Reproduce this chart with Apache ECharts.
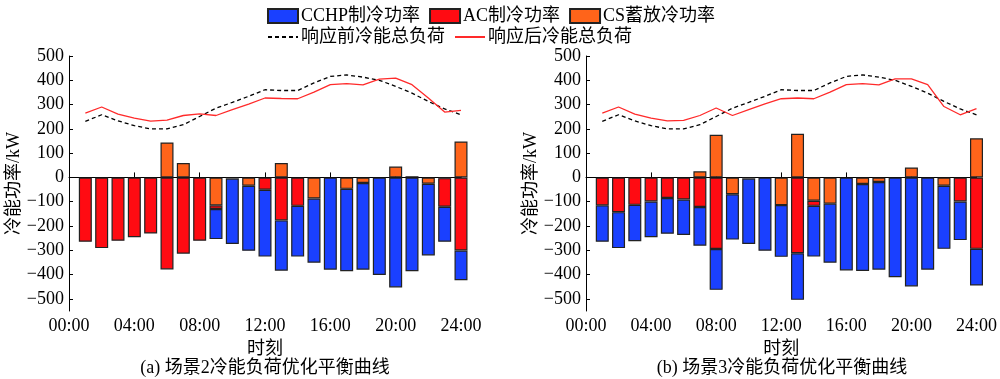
<!DOCTYPE html>
<html>
<head>
<meta charset="utf-8">
<script src="https://cdn.jsdelivr.net/npm/echarts@6/dist/echarts.min.js"></script>
<style>
html,body{margin:0;padding:0;background:#fff;}
#chart{width:1000px;height:379px;}
</style>
</head>
<body>
<div id="chart"></div>
<script>
// ---- data ----
var hours = [1,2,3,4,5,6,7,8,9,10,11,12,13,14,15,16,17,18,19,20,21,22,23,24];
var yTicks = [-500,-400,-300,-200,-100,0,100,200,300,400,500];
var seriesNames = ['CCHP制冷功率','AC制冷功率','CS蓄放冷功率','响应前冷能总负荷','响应后冷能总负荷'];
var captions = ['(a) 场景2冷能负荷优化平衡曲线','(b) 场景3冷能负荷优化平衡曲线'];

// 响应前冷能总负荷 (same in both scenarios)
var before = [231,258,233,213,200,200,217,251,285,309,334,361,358,358,389,416,422,413,400,375,347,313,282,258];

// Scenario 2
var after2 = [265,290,261,244,232,236,255,262,255,279,302,327,325,324,351,382,386,381,405,409,382,327,269,276];
var cchp2  = [0,0,0,0,0,0,0,0,-124,-269,-268,-275,-207,-209,-264,-380,-339,-357,-402,-453,-386,-295,-144,-122];
var ac2    = [-265,-291,-261,-246,-231,-379,-314,-261,-15,-5,0,-51,-177,-117,0,0,0,0,0,0,0,0,-118,-301];
var cs2    = [0,0,0,0,0,144,59,0,-115,0,-34,0,59,0,-87,0,-47,-23,0,45,5,-26,-3,148];

// Scenario 3
var after3 = [265,290,261,244,233,235,255,286,255,279,303,324,327,324,351,382,386,381,406,406,382,292,258,283];
var cchp3  = [-150,-148,-150,-147,-147,-146,-159,-168,-187,-269,-302,-213,-192,-209,-243,-383,-358,-361,-411,-449,-380,-260,-159,-151];
var ac3    = [-115,-143,-113,-99,-85,-91,-122,-295,0,-5,0,0,-312,-21,0,0,0,0,0,0,0,0,-99,-294];
var cs3    = [0,0,0,0,0,0,25,176,-69,0,0,-114,180,-96,-108,0,-27,-19,0,41,0,-34,0,161];

// ---- styles ----
var SERIF = '"Liberation Serif","Times New Roman","Noto Sans CJK SC",serif';
var C_BLUE = '#1a40ff', C_RED = '#ff0b12', C_ORANGE = '#ff641a';

// category axis 0..24 (hour marks), marks sit on hours 1..24
var cats = [0].concat(hours).map(String);
function barData(arr){ return [null].concat(arr.map(function(v){ return v === 0 ? null : v; })); }
function lineData(arr){ return [null].concat(arr); }
function fmtMinus(v){ return String(v).replace('-', '\u2212'); }

var grids = [
  {left: 69, width: 392, top: 56, bottom: 68},
  {left: 586, width: 392, top: 56, bottom: 68}
];
var xAxes = [], yAxes = [], series = [], graphics = [];
var sets = [
  {cchp: cchp2, ac: ac2, cs: cs2, after: after2},
  {cchp: cchp3, ac: ac3, cs: cs3, after: after3}
];
sets.forEach(function(s, gi){
  xAxes.push({
    type: 'category', gridIndex: gi, data: cats, boundaryGap: false,
    name: '时刻', nameLocation: 'middle', nameGap: 28,
    nameTextStyle: {fontFamily: SERIF, fontSize: 18, color: '#000'},
    axisLine: {show: true, lineStyle: {color: '#000', width: 1}},
    axisTick: {show: true, inside: true, length: 5, interval: 3, lineStyle: {color: '#000'}},
    axisLabel: {fontFamily: SERIF, fontSize: 18, color: '#000', margin: 6, interval: 3,
      formatter: function(v){ var n = parseInt(v, 10); return (n < 10 ? '0' : '') + n + ':00'; }},
    splitLine: {show: false}
  });
  yAxes.push({
    type: 'value', gridIndex: gi, min: -550, max: 500,
    name: '冷能功率/kW', nameLocation: 'middle', nameGap: 42, nameRotate: 90,
    nameTextStyle: {fontFamily: SERIF, fontSize: 18, color: '#000'},
    axisLine: {show: true, lineStyle: {color: '#000', width: 1}},
    axisTick: {show: true, inside: true, length: 4, customValues: yTicks, lineStyle: {color: '#000'}},
    axisLabel: {fontFamily: SERIF, fontSize: 18, color: '#000', margin: 5,
      customValues: yTicks, formatter: fmtMinus},
    splitLine: {show: false}
  });
  var barCommon = {
    type: 'bar', xAxisIndex: gi, yAxisIndex: gi, stack: 'st' + gi,
    barWidth: 13, clip: false
  };
  series.push(Object.assign({}, barCommon, {name: seriesNames[2], data: barData(s.cs),
    itemStyle: {color: C_ORANGE, borderColor: '#222', borderWidth: 1.2}}));
  series.push(Object.assign({}, barCommon, {name: seriesNames[1], data: barData(s.ac),
    itemStyle: {color: C_RED, borderColor: '#222', borderWidth: 1.2}}));
  series.push(Object.assign({}, barCommon, {name: seriesNames[0], data: barData(s.cchp),
    itemStyle: {color: C_BLUE, borderColor: '#222', borderWidth: 1.2}}));
  series.push({
    type: 'line', name: seriesNames[3], xAxisIndex: gi, yAxisIndex: gi,
    data: lineData(before), z: 5,
    symbol: 'none', lineStyle: {color: '#000', width: 1.3, type: [4, 3]}, itemStyle: {color: '#000'}
  });
  series.push({
    type: 'line', name: seriesNames[4], xAxisIndex: gi, yAxisIndex: gi,
    data: lineData(s.after), z: 5,
    symbol: 'none', lineStyle: {color: '#ff2a2a', width: 1.3}, itemStyle: {color: '#ff2a2a'}
  });
  var g = grids[gi];
  graphics.push({
    type: 'text', x: g.left + g.width / 2, y: 368,
    style: {text: captions[gi], font: '18px ' + SERIF, fill: '#000', textAlign: 'center', textVerticalAlign: 'middle'}
  });
});

var chart = echarts.init(document.getElementById('chart'), null, {renderer: 'canvas'});
chart.setOption({
  animation: false,
  backgroundColor: '#fff',
  grid: grids,
  xAxis: xAxes,
  yAxis: yAxes,
  legend: [
    {data: [seriesNames[0], seriesNames[1], seriesNames[2]], left: 262, top: 2,
     itemWidth: 30, itemHeight: 14, itemGap: 9, icon: 'rect',
     textStyle: {fontFamily: SERIF, fontSize: 18, color: '#000', padding: [0,0,0,-2]}},
    {data: [seriesNames[3], seriesNames[4]], left: 262, top: 23,
     itemWidth: 30, itemHeight: 14, itemGap: 9,
     itemStyle: {color: 'transparent', borderWidth: 0, opacity: 0},
     textStyle: {fontFamily: SERIF, fontSize: 18, color: '#000', padding: [0,0,0,-2]}}
  ],
  graphic: graphics,
  series: series
});
</script>
</body>
</html>
